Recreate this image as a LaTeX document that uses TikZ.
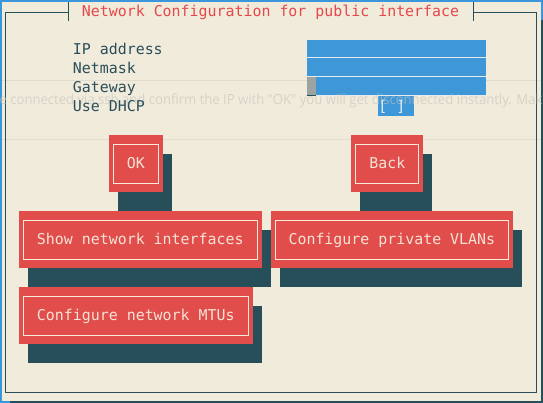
\documentclass[tikz,border=0pt]{standalone}
\usepackage{fontspec}
\usepackage{graphicx}
\newfontfamily\termfont{DejaVu Sans Mono}
\newfontfamily\ghostfont{Open Sans}
\definecolor{bgc}{HTML}{F0EBDB}
\definecolor{edgeblue}{HTML}{3C96DA}
\definecolor{shadowc}{HTML}{264F5A}
\definecolor{framec}{HTML}{264F5A}
\definecolor{titlec}{HTML}{E5484B}
\definecolor{labelc}{HTML}{2A4D59}
\definecolor{btnred}{HTML}{E04D4B}
\definecolor{btntxt}{HTML}{F6E3D6}
\definecolor{borderc}{HTML}{F6EBD9}
\definecolor{fieldblue}{HTML}{3E98D8}
\definecolor{fieldsep}{HTML}{E6ECEE}
\definecolor{cursorgray}{HTML}{9CA3A1}
\definecolor{brackettxt}{HTML}{E6EEF4}
\definecolor{ghostc}{HTML}{C4C2BA}
\newsavebox\ghA
\newsavebox\ghB
\newsavebox\ghAll
\newlength\ghwA
\newlength\ghwB
\AtBeginDocument{%
  \sbox\ghA{\ghostfont\fontsize{14pt}{16pt}\selectfont e\ }%
  \sbox\ghB{\ghostfont\fontsize{14pt}{16pt}\selectfont connected via ssh and confirm the IP with "OK" you will get disconnected instantly.}%
  \sbox\ghAll{\color{ghostc}\ghostfont\fontsize{14pt}{16pt}\selectfont e connected via ssh and confirm the IP with "OK" you will get disconnected instantly. Mak}%
  \setlength\ghwA{\wd\ghA}%
  \setlength\ghwB{\wd\ghB}%
}
\newcommand\tuibtn[7]{%
  \fill[btnshadow] (#2+1,#3+1) rectangle (#4+1,#5+1);
  \fill[btnbox] (#2,#3) rectangle (#4,#5);
  \draw[btnborder] (#2+0.5,#3+0.526) rectangle (#4-0.5,#5-0.437);
  \node[btxt] (#1) at (#6,#3+1.805) {#7};
}
\begin{document}
\begin{tikzpicture}[x=1pt,y=-1pt,
  termtext/.style={anchor=base west, inner sep=0pt, outer sep=0pt,
    font=\termfont\fontsize{14.92pt}{19pt}\selectfont},
  lbl/.style={termtext, text=labelc},
  ttl/.style={termtext, text=titlec},
  btxt/.style={termtext, text=btntxt},
  brk/.style={termtext, text=brackettxt},
  btnbox/.style={fill=btnred},
  btnshadow/.style={fill=shadowc},
  btnborder/.style={draw=borderc, line width=1.1pt},
  frameline/.style={draw=framec, line width=1.1pt},
  ghostline/.style={draw=ghostc, opacity=0.35, line width=0.8pt},
  ghosttext/.style={anchor=base west, inner sep=0pt, outer sep=0pt, text=ghostc, text opacity=0.6}
]
\useasboundingbox (0,0) rectangle (543,403);
% window background and edges
\fill[bgc] (0,0) rectangle (543,403);
\fill[edgeblue] (0,0) rectangle (543,2);
\fill[edgeblue] (0,0) rectangle (1.7,403);
\fill[edgeblue] (540.7,0) rectangle (543,20);
\fill[shadowc] (540.7,20) rectangle (543,403);
\fill[shadowc] (10,400.7) rectangle (543,403);
\fill[edgeblue] (0,400.7) rectangle (10,403);
% ghost lines
\draw[ghostline] (1.7,80) -- (540.7,80);
\draw[ghostline] (1.7,139) -- (540.7,139);
% frame
\draw[frameline] (68.4,12.3) -- (5.5,12.3) -- (5.5,392.7) -- (536.3,392.7) -- (536.3,12.3) -- (473.3,12.3);
\draw[frameline] (68.4,2) -- (68.4,20.7);
\draw[frameline] (473.3,2) -- (473.3,20.7);
\node[ttl] (title) at (81.9,17) {Network Configuration for public interface};
% input fields
\fill[fieldblue] (306.5,40) rectangle (486.2,95.7);
\draw[fieldsep, line width=0.9pt] (306.5,57.3) -- (486.2,57.3);
\draw[fieldsep, line width=0.9pt] (306.5,76.5) -- (486.2,76.5);
\fill[cursorgray] (306.5,77) rectangle (315.5,95);
\draw[fieldsep, line width=0.9pt] (315.5,95.2) -- (486.2,95.2);
\draw[shadowc, line width=0.9pt] (306.5,95.2) -- (315.5,95.2);
\fill[fieldblue] (378.4,95.7) rectangle (414.3,115.7);
% ghost text
\pgfmathsetmacro\gs{501.4/\ghwB}
\pgfmathsetmacro\gx{10.4-\gs*\ghwA}
\node[ghosttext] (ghost) at (\gx,105) {\scalebox{\gs}[1]{\usebox\ghAll}};
% labels
\node[lbl] (lip) at (72.91,55) {IP address};
\node[lbl] (lmask) at (72.91,74) {Netmask};
\node[lbl] (lgw) at (72.91,93) {Gateway};
\node[lbl] (ldhcp) at (72.91,112) {Use DHCP};
\node[brk] (dhcpbox) at (378.4,112) {[ ]};
% buttons on the character grid
\begin{scope}[shift={(1.03pt,-1.7pt)}, x=8.985pt, y=-19pt]
\tuibtn{ok}{12}{7}{18}{10}{14}{OK}
\tuibtn{back}{39}{7}{47}{10}{41}{Back}
\tuibtn{shownet}{2}{11}{29}{14}{4}{Show network interfaces}
\tuibtn{vlans}{30}{11}{57}{14}{32}{Configure private VLANs}
\tuibtn{mtus}{2}{15}{28}{18}{4}{Configure network MTUs}
\end{scope}
\end{tikzpicture}
\end{document}
